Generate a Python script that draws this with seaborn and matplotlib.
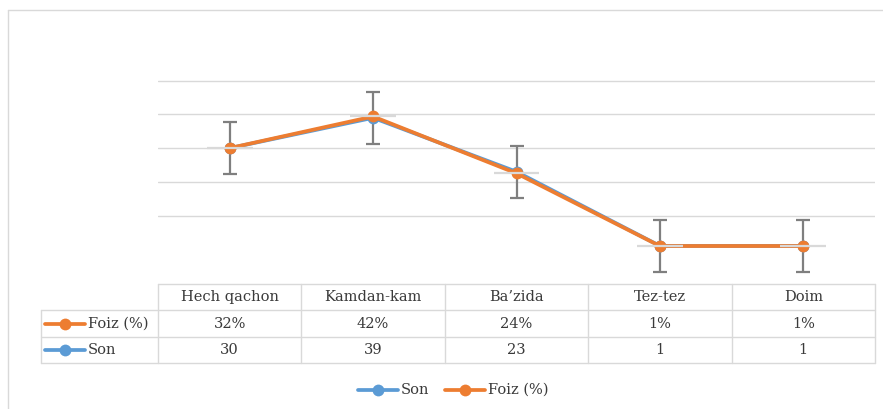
import numpy as np
import pandas as pd
import matplotlib
matplotlib.use("Agg")
import matplotlib.pyplot as plt
import seaborn as sns

categories = ["Hech qachon", "Kamdan-kam", "Ba\u2019zida", "Tez-tez", "Doim"]
son = [30, 39, 23, 1, 1]
foiz = [32, 42, 24, 1, 1]
series_names = ["Son", "Foiz (%)"]

BLUE = "#5B9BD5"
ORANGE = "#ED7D31"
GRID = "#D9D9D9"
ERR = "#7F7F7F"
TXT = "#3A3A3A"

sns.set_theme(style="white")
plt.rcParams["font.family"] = ["DejaVu Serif"]

W, H = 883, 409
fig = plt.figure(figsize=(W / 100, H / 100), dpi=100)
fig.patch.set_facecolor("white")

def px_rect(x0, y0, x1, y1):
    return [x0 / W, 1 - y1 / H, (x1 - x0) / W, (y1 - y0) / H]

# overlay for frame / table / legend (pixel coordinates)
ov = fig.add_axes([0, 0, 1, 1], zorder=0)
ov.set_xlim(0, W)
ov.set_ylim(H, 0)
ov.axis("off")

# chart frame
ov.plot([8, 8], [10, H + 5], color=GRID, lw=1, clip_on=False)
ov.plot([8, W + 5], [10, 10], color=GRID, lw=1, clip_on=False)

# plot area
x_left, x_right, y_top, y_bot = 158, 875, 47, 283
ax = fig.add_axes(px_rect(x_left, y_top, x_right, y_bot), zorder=2)
ax.patch.set_alpha(0)
df = pd.DataFrame({"cat": categories, "pos": np.arange(len(categories)),
                   "Son": son, "Foiz": foiz})

se = np.std(son, ddof=1) / np.sqrt(len(son))
sns.lineplot(data=df, x="pos", y="Son", ax=ax, color=BLUE, lw=2.7,
             marker="o", markersize=8.5, markeredgewidth=0, sort=False)
ax.errorbar(df["pos"], df["Son"], yerr=se, fmt="none", ecolor=ERR,
            elinewidth=1.6, capsize=5, capthick=1.6, zorder=1)
ax.set_xlim(-0.5, len(categories) - 0.5)
ax.set_ylim(-10, 60)
ax.set_yticks([10, 20, 30, 40, 50])
ax.yaxis.grid(True, color=GRID, lw=1)
ax.xaxis.grid(False)
ax.set_xlabel("")
ax.set_ylabel("")

ax2 = ax.twinx()
ax2.set_zorder(3)
ax2.patch.set_alpha(0)
sns.lineplot(data=df, x="pos", y="Foiz", ax=ax2, color=ORANGE, lw=2.7,
             marker="o", markersize=8.5, markeredgewidth=0, sort=False)
ax2.errorbar(df["pos"], df["Foiz"], xerr=0.16, fmt="none", ecolor=GRID,
             elinewidth=1.6, capsize=0, zorder=5)
ax2.set_ylim(-10.71, 64.0)
ax2.set_xlim(-0.5, len(categories) - 0.5)
ax2.set_ylabel("")
ax2.set_xlabel("")
ax2.grid(False)

for a in (ax, ax2):
    for s in a.spines.values():
        s.set_visible(False)
    a.tick_params(left=False, right=False, bottom=False, top=False,
                  labelleft=False, labelright=False, labelbottom=False)

# data table
col_w = (x_right - x_left) / len(categories)
rows_y = [284, 310, 337, 363]
lk = dict(color=GRID, lw=1)
ov.plot([x_left, x_right], [rows_y[0], rows_y[0]], **lk)
for yy in rows_y[1:]:
    ov.plot([41, x_right], [yy, yy], **lk)
ov.plot([41, 41], [rows_y[1], rows_y[3]], **lk)
for i in range(len(categories) + 1):
    xx = x_left + i * col_w
    ov.plot([xx, xx], [rows_y[0], rows_y[3]], **lk)

fs = 10.5
for i, c in enumerate(categories):
    cx = x_left + (i + 0.5) * col_w
    ov.text(cx, (rows_y[0] + rows_y[1]) / 2, c, ha="center", va="center", fontsize=fs, color=TXT)
    ov.text(cx, (rows_y[1] + rows_y[2]) / 2, f"{foiz[i]}%", ha="center", va="center", fontsize=fs, color=TXT)
    ov.text(cx, (rows_y[2] + rows_y[3]) / 2, f"{son[i]}", ha="center", va="center", fontsize=fs, color=TXT)

def key(x0, y, color, label):
    ov.plot([x0, x0 + 40], [y, y], color=color, lw=2.7, solid_capstyle="round")
    ov.plot([x0 + 20], [y], "o", color=color, markersize=8.5, markeredgewidth=0)
    ov.text(x0 + 43, y, label, ha="left", va="center", fontsize=fs, color=TXT)

key(45, (rows_y[1] + rows_y[2]) / 2, ORANGE, series_names[1])
key(45, (rows_y[2] + rows_y[3]) / 2, BLUE, series_names[0])

# bottom legend
key(358, 390, BLUE, series_names[0])
key(445, 390, ORANGE, series_names[1])

fig.savefig("out.png", dpi=100, facecolor="white")
